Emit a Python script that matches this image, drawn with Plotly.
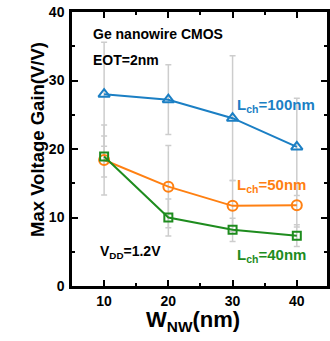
import plotly.graph_objects as go

# Nanowire width (nm)
w_nw = [10, 20, 30, 40]

# Max voltage gain (V/V) for each channel length, with spread
gain_100 = [28.0, 27.2, 24.5, 20.3]
err_100 = [7.6, 5.1, 9.1, 7.1]

gain_50 = [18.4, 14.5, 11.7, 11.8]
err_50 = [5.1, 6.0, 3.7, 3.2]

gain_40 = [18.9, 10.0, 8.2, 7.35]
err_40 = [3.0, 2.7, 1.7, 1.6]

x_ticks = [10, 20, 30, 40]
y_ticks = [0, 10, 20, 30, 40]

BLUE = "#1b7fc4"
ORANGE = "#ff8012"
GREEN = "#1e8c1e"
GRAY = "#cdcdcd"
FONT = "Liberation Sans, Arial, sans-serif"

series = [
    (gain_100, err_100, BLUE, "triangle-up-open", 10),
    (gain_50, err_50, ORANGE, "circle-open", 10),
    (gain_40, err_40, GREEN, "square-open", 8),
]

fig = go.Figure()

# gray error bars behind the data lines
for vals, errs, _, _, _ in series:
    fig.add_trace(go.Scatter(
        x=w_nw, y=vals, mode="markers",
        marker=dict(size=1, opacity=0),
        error_y=dict(type="data", array=errs, visible=True,
                     color=GRAY, thickness=1.5, width=3),
        showlegend=False, hoverinfo="skip",
    ))

for vals, _, color, symbol, size in series:
    fig.add_trace(go.Scatter(
        x=w_nw, y=vals, mode="lines+markers",
        line=dict(color=color, width=2),
        marker=dict(symbol=symbol, size=size, color=color,
                    line=dict(color=color, width=2)),
        showlegend=False,
    ))

labels = [
    ("Ge nanowire CMOS", 7.9, 36.8, "black", 14),
    ("EOT=2nm", 7.9, 33.0, "black", 14),
    ("L<sub>ch</sub>=100nm", 30.3, 26.4, BLUE, 15),
    ("L<sub>ch</sub>=50nm", 30.3, 14.6, ORANGE, 15),
    ("L<sub>ch</sub>=40nm", 30.3, 4.4, GREEN, 15),
    ("V<sub>DD</sub>=1.2V", 9.1, 5.0, "black", 14),
]
annotations = [
    dict(text=t, x=x, y=y, xref="x", yref="y", xanchor="left",
         yanchor="middle", showarrow=False,
         font=dict(family=FONT, size=s, color=c, weight="bold"))
    for t, x, y, c, s in labels
]
annotations += [
    dict(text="Max Voltage Gain(V/V)", x=-0.135, y=0.535, xref="paper",
         yref="paper", textangle=-90, showarrow=False,
         xanchor="center", yanchor="middle",
         font=dict(family=FONT, size=18.5, color="black", weight="bold")),
    dict(text="W<sub>NW</sub>(nm)", x=0.475, y=-0.127, xref="paper",
         yref="paper", showarrow=False, xanchor="center", yanchor="middle",
         font=dict(family=FONT, size=22, color="black", weight="bold")),
]

axis_common = dict(
    showline=True, linecolor="black", linewidth=2.5, mirror="allticks",
    ticks="inside", ticklen=6, tickwidth=2, tickcolor="black",
    showgrid=False, zeroline=False,
    tickfont=dict(family=FONT, size=14, color="black", weight="bold"),
)

# the right-hand frame line falls just past the page edge
fig.update_xaxes(range=[5, 44.7], tickvals=x_ticks,
                 minor=dict(ticks="inside", ticklen=3, tickwidth=1.5,
                            tickcolor="black", dtick=5, tick0=5),
                 **axis_common)
fig.update_yaxes(range=[0, 40], tickvals=y_ticks, ticklabelstandoff=2,
                 minor=dict(ticks="inside", ticklen=3, tickwidth=1.5,
                            tickcolor="black", dtick=5, tick0=0),
                 **axis_common)

fig.update_layout(
    width=330, height=341, autosize=False,
    margin=dict(l=72, r=0, t=12, b=55),
    plot_bgcolor="white", paper_bgcolor="white",
    annotations=annotations,
)

fig.write_html("out.html", config={"responsive": False})
